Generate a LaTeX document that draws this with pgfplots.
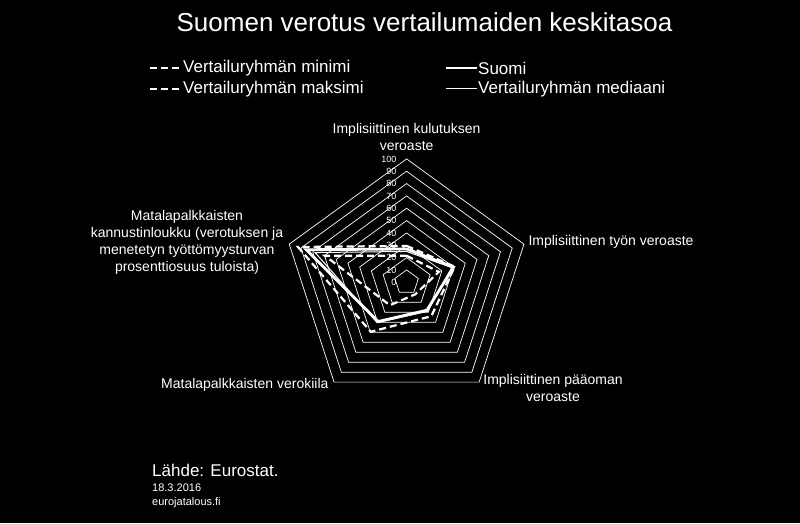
\documentclass[border=0pt]{standalone}
\usepackage{pgfplots}
\pgfplotsset{compat=1.18}
\usepgfplotslibrary{polar}
\usepackage{fontspec}
\setmainfont{Liberation Sans}

% radar values, order: kulutus (90), tyo (18), paaoma (-54), verokiila (-126), kannustinloukku (162)
\begin{document}
\begin{tikzpicture}[x=1pt,y=1pt]
  \fill[black] (0,0) rectangle (800,523);

  % title
  \node[white, font=\fontsize{26}{30}\selectfont] at (424.5,501) {Suomen verotus vertailumaiden keskitasoa};

  % legend
  \begin{scope}[font=\fontsize{17}{20}\selectfont, white]
    \draw[white, line width=2.2pt, dash pattern=on 7pt off 4pt] (149.5,455) -- (181,455);
    \node[anchor=west, inner sep=0pt] at (183,455) {Vertailuryhmän minimi};
    \draw[white, line width=2.2pt, dash pattern=on 7pt off 4pt] (149.5,434) -- (181,434);
    \node[anchor=west, inner sep=0pt] at (183,434) {Vertailuryhmän maksimi};
    \draw[white, line width=2.8pt] (446,455) -- (477,455);
    \node[anchor=west, inner sep=0pt] at (478,455) {Suomi};
    \draw[white, line width=1pt] (446,434) -- (477,434);
    \node[anchor=west, inner sep=0pt] at (478,434) {Vertailuryhmän mediaani};
  \end{scope}

  \begin{polaraxis}[
      at={(406.6pt,240.7pt)}, anchor=center,
      scale only axis, width=246.8pt, height=246.8pt,
      hide axis, ymin=0, ymax=100,
      clip=false, no markers,
    ]
    \pgfplotsinvokeforeach{10,20,30,40,50,60,70,80,90,100}{
      \addplot[white, line width=0.7pt] coordinates {(90,#1) (18,#1) (-54,#1) (-126,#1) (162,#1)} -- cycle;
    }
    \pgfplotsinvokeforeach{0,10,20,30,40,50,60,70,80,90,100}{
      \node[white, anchor=east, inner sep=0pt, font=\fontsize{9}{10}\selectfont] at (axis cs:90,#1) [xshift=-10pt] {#1};
    }
    % min
    \addplot[white, line width=2.2pt, dash pattern=on 7pt off 4pt] coordinates {
      (90,21.5) (18,27.5) (-54,12) (-126,23) (162,69.5)} -- cycle;
    % max
    \addplot[white, line width=2.2pt, dash pattern=on 7pt off 4pt] coordinates {
      (90,29.5) (18,41) (-54,34) (-126,49.5) (162,92.5)} -- cycle;
    % median
    \addplot[white, line width=1pt] coordinates {
      (90,25) (18,38.5) (-54,29) (-126,40.5) (162,78)} -- cycle;
    % Suomi
    \addplot[white, line width=2.8pt] coordinates {
      (90,27) (18,40) (-54,28) (-126,39.3) (162,85.4)} -- cycle;
  \end{polaraxis}

  % category labels
  \begin{scope}[white, font=\fontsize{14}{17}\selectfont]
    \node[align=center] at (406.6,386) {Implisiittinen kulutuksen\\veroaste};
    \node[anchor=west] at (525,281) {Implisiittinen työn veroaste};
    \node[align=center] at (553,135) {Implisiittinen pääoman\\veroaste};
    \node[anchor=east] at (332,138) {Matalapalkkaisten verokiila};
    \node[align=center] at (187,280.5) {Matalapalkkaisten\\kannustinloukku (verotuksen ja\\menetetyn työttömyysturvan\\prosenttiosuus tuloista)};
  \end{scope}

  % source
  \node[white, anchor=west, inner sep=0pt, font=\fontsize{17}{20}\selectfont] at (152,53) {Lähde: Eurostat.};
  \node[white, anchor=west, inner sep=0pt, font=\fontsize{11}{13}\selectfont] at (152,35) {18.3.2016};
  \node[white, anchor=west, inner sep=0pt, font=\fontsize{11}{13}\selectfont] at (152,20) {eurojatalous.fi};
\end{tikzpicture}
\end{document}
